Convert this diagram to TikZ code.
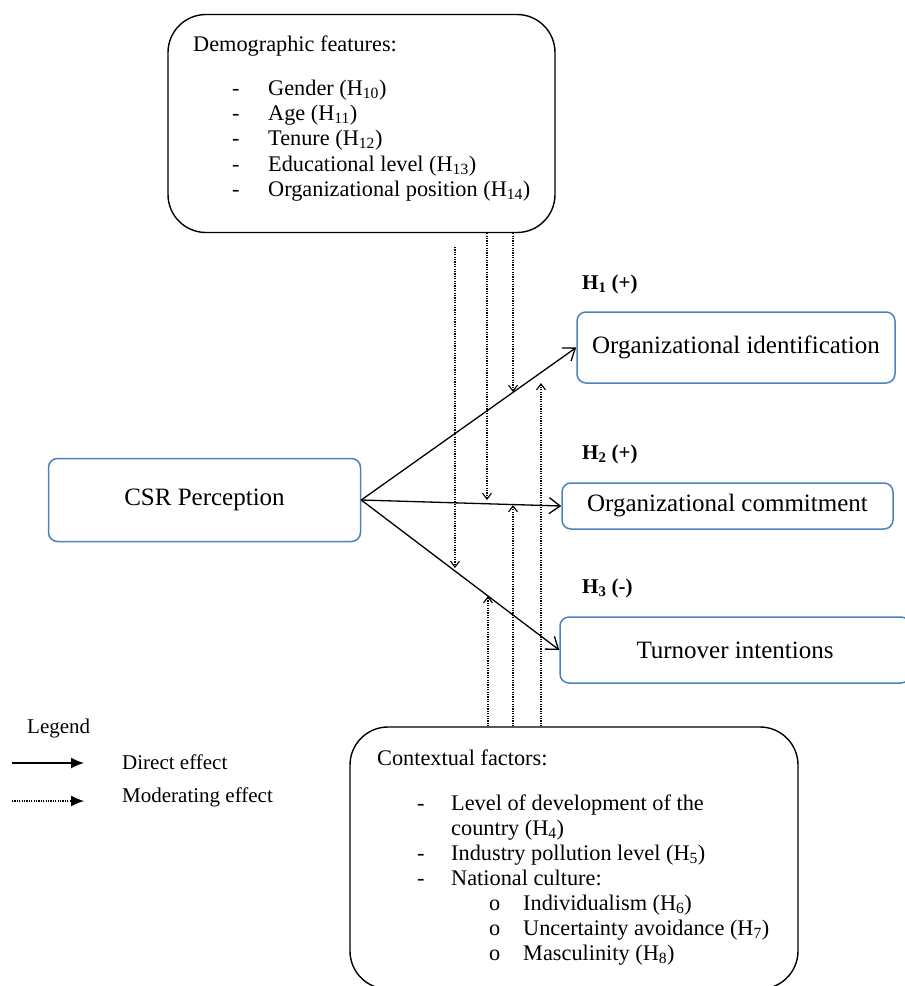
\documentclass[tikz,border=0pt]{standalone}
\usepackage{fontspec}
\setmainfont{Liberation Serif}
\usetikzlibrary{arrows.meta}
\definecolor{boxblue}{RGB}{79,129,189}
\newcommand{\txt}{\fontsize{21}{25}\selectfont}
\newcommand{\feattxt}{\fontsize{22.3}{25}\selectfont}
\newcommand{\vartxt}{\fontsize{25}{28}\selectfont}
\tikzset{
  featbox/.style={draw, line width=1.4pt, rounded corners=38pt},
  varbox/.style={draw=boxblue, line width=1.5pt, rounded corners=9pt, font=\vartxt},
  lbl/.style={anchor=base west, inner sep=0pt, font=\txt},
  feat/.style={lbl, font=\feattxt},
  direct/.style={line width=1.3pt, -{Straight Barb[length=11pt,width=16pt,line width=1.3pt]}},
  moder/.style={line width=1.1pt, dash pattern=on 1.2pt off 1.2pt, -{Straight Barb[length=6pt,width=9pt,line width=1.1pt]}},
  legdirect/.style={line width=1.3pt, -{Latex[length=13pt,width=11pt]}},
  legmoder/.style={line width=1.1pt, dash pattern=on 1.2pt off 1.2pt, -{Latex[length=13pt,width=11pt]}},
}
\begin{document}
\begin{tikzpicture}[x=1pt,y=-1pt]
    \useasboundingbox (0,0) rectangle (905,986);

    %moderator boxes
    \node[featbox, minimum width=387, minimum height=218] (demo) at (361.5,123.5) {};
    \node[featbox, minimum width=448, minimum height=262] (ctx) at (574,858) {};

    %demographic features
    \node[feat] (dtitle) at (193,51.7) {Demographic features:};
    \foreach \t [count=\i] in {Gender (H\textsubscript{10}), Age (H\textsubscript{11}), Tenure (H\textsubscript{12}), Educational level\ (H\textsubscript{13}), Organizational position (H\textsubscript{14})} {
        \node[feat] (ddash\i) at (232,{69.6+25.4*\i}) {-};
        \node[feat] (ditem\i) at (268,{69.6+25.4*\i}) {\t};
    }

    %contextual factors
    \node[feat] (ctitle) at (377,765) {Contextual factors:};
    \node[feat] (cdash1) at (417,810) {-};
    \node[feat] (citem1) at (451,810) {Level of development of the};
    \node[feat] (citem1b) at (451,835) {country (H\textsubscript{4})};
    \node[feat] (cdash2) at (417,860) {-};
    \node[feat] (citem2) at (451,860) {Industry pollution level (H\textsubscript{5})};
    \node[feat] (cdash3) at (417,885) {-};
    \node[feat] (citem3) at (451,885) {National culture:};
    \foreach \t [count=\i] in {Individualism (H\textsubscript{6}), Uncertainty avoidance (H\textsubscript{7}), Masculinity (H\textsubscript{8})} {
        \node[feat] (csub\i) at (489,{885+25*\i}) {o};
        \node[feat] (cculture\i) at (523,{885+25*\i}) {\t};
    }

    %variables
    \node[varbox, minimum width=312, minimum height=83] (csr) at (204.5,500) {CSR Perception};
    \node[varbox, minimum width=318, minimum height=71] (oi) at (736,347.5) {Organizational identification};
    \node[varbox, minimum width=331, minimum height=46] (oc) at (727.5,506) {Organizational commitment};
    \node[varbox, minimum width=350, minimum height=66] (ot) at (735,650) {Turnover intentions};

    %hypotheses
    \node[lbl] (h1) at (582,289) {\textbf{H\textsubscript{1} (+)}};
    \node[lbl] (h2) at (582,459) {\textbf{H\textsubscript{2} (+)}};
    \node[lbl] (h3) at (582,593) {\textbf{H\textsubscript{3} (-)}};

    %direct effects
    \draw[direct] (csr.east) -- (oi.west);
    \draw[direct] (csr.east) -- (oc.west);
    \draw[direct] (csr.east) -- (ot.west);

    %moderating effects
    \coordinate (dg1) at (455,568);
    \coordinate (dg2) at (487,500);
    \coordinate (dg3) at (513,392);
    \coordinate (dgtop) at (455,247);
    \draw[moder] (dgtop) -- (dg1);
    \draw[moder] (dg2 |- demo.south) -- (dg2);
    \draw[moder] (dg3 |- demo.south) -- (dg3);
    \coordinate (cx1) at (488,596);
    \coordinate (cx2) at (513,505);
    \coordinate (cx3) at (541,383);
    \draw[moder] (cx1 |- ctx.north) -- (cx1);
    \draw[moder] (cx2 |- ctx.north) -- (cx2);
    \draw[moder] (cx3 |- ctx.north) -- (cx3);

    %legend
    \node[lbl] (legend) at (27,733) {Legend};
    \coordinate (ld0) at (12,763);
    \coordinate (ld1) at (84,763);
    \draw[legdirect] (ld0) -- (ld1);
    \node[lbl] (ldtext) at (122,769) {Direct effect};
    \coordinate (lm0) at (12,801);
    \coordinate (lm1) at (84,801);
    \draw[legmoder] (lm0) -- (lm1);
    \node[lbl] (lmtext) at (122,802) {Moderating effect};
\end{tikzpicture}
\end{document}
